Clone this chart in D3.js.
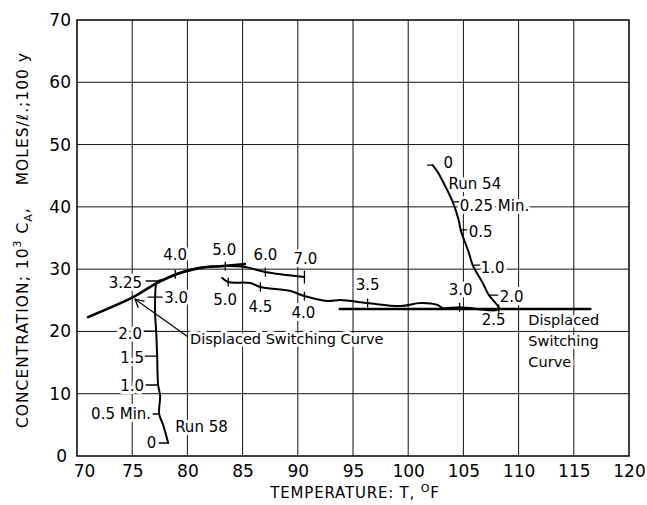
<!DOCTYPE html>
<html><head><meta charset="utf-8">
<script src="https://cdn.jsdelivr.net/npm/d3@7"></script>
<style>
html,body{margin:0;padding:0;background:#fff;}
svg{display:block;}
text{font-family:"DejaVu Sans",sans-serif;fill:#000;}
</style></head><body>
<svg id="chart" width="647" height="505"></svg>
<script>
// Axis ticks
const temperatureTicks = [70, 75, 80, 85, 90, 95, 100, 105, 110, 115, 120];
const concentrationTicks = [0, 10, 20, 30, 40, 50, 60, 70];

// Run 58 trajectory (temperature °F, concentration)
const run58Temperature   = [78.26, 77.8, 77.44, 77.53, 77.35, 77.26, 77.17, 77.08, 77.08, 77.17, 77.35, 78.0, 78.9, 81.16, 83.43, 85.24, 87.06, 90.6];
const run58Concentration = [2.09, 5.0, 6.74, 9.63, 11.4, 16.05, 20.06, 22.6, 25.5, 27.6, 28.1, 28.4, 29.2, 30.2, 30.5, 30.34, 29.53, 28.73];
// Run 58 elapsed-time marks
const run58Times = ["0", "0.5 Min.", "1.0", "1.5", "2.0", "3.0", "3.25", "4.0", "5.0", "6.0", "7.0"];
const run58TimeTemperature   = [78.26, 77.44, 77.35, 77.26, 77.17, 77.08, 77.35, 78.9, 83.43, 87.06, 90.6];
const run58TimeConcentration = [2.09, 6.74, 11.4, 16.05, 20.06, 25.5, 28.1, 29.2, 30.5, 29.53, 28.73];

// Run 54 trajectory
const run54Temperature   = [102.21, 102.67, 103.3, 104.03, 104.57, 104.75, 105.48, 105.84, 106.75, 107.3, 108.2, 104.66, 103.1, 102.67, 101.1, 99.31, 96.32, 93.87, 92.69, 90.6, 89.33, 86.61, 85.7, 83.7, 83.16];
const run54Concentration = [46.7, 45.6, 43.5, 40.8, 37.9, 36.3, 32.7, 30.66, 27.77, 25.84, 23.6, 23.9, 23.76, 24.24, 24.56, 24.08, 24.56, 25.04, 24.88, 25.68, 26.48, 27.13, 27.77, 27.93, 28.57];
// Run 54 elapsed-time marks
const run54Times = ["0", "0.25 Min.", "0.5", "1.0", "2.0", "2.5", "3.0", "3.5", "4.0", "4.5", "5.0"];
const run54TimeTemperature   = [102.21, 104.03, 104.75, 105.84, 107.3, 108.2, 104.66, 96.32, 90.6, 86.61, 83.7];
const run54TimeConcentration = [46.7, 40.8, 36.3, 30.66, 25.84, 23.6, 23.9, 24.56, 25.68, 27.13, 27.93];

// Displaced switching curves
const switchLeftTemperature   = [71.0, 75.08, 77.26, 78.9, 81.16, 83.25, 85.2];
const switchLeftConcentration = [22.3, 25.5, 27.8, 29.1, 30.2, 30.5, 30.8];
const switchRightTemperature   = [93.8, 116.5];
const switchRightConcentration = [23.6, 23.6];

const runLabels = ["Run 58", "Run 54"];
const switchLabel = "Displaced Switching Curve";

// ---------------------------------------------------------------
const svg = d3.select("#chart");
const L = 77, R = 629, T = 20, B = 456;
const x = d3.scaleLinear().domain([70, 120]).range([L, R]);
const y = d3.scaleLinear().domain([0, 70]).range([B, T]);

const zip = (a, b) => a.map((v, i) => [v, b[i]]);

// grid
const grid = svg.append("g").attr("stroke", "#111").attr("stroke-width", 1);
grid.selectAll("line.v").data(temperatureTicks.slice(1, -1)).join("line")
  .attr("x1", d => x(d)).attr("x2", d => x(d)).attr("y1", T).attr("y2", B);
grid.selectAll("line.h").data(concentrationTicks.slice(1, -1)).join("line")
  .attr("x1", L).attr("x2", R).attr("y1", d => y(d)).attr("y2", d => y(d));

// axes
const xAxis = svg.append("g").attr("transform", `translate(0,${B})`)
  .call(d3.axisBottom(x).tickValues(temperatureTicks).tickSize(0).tickPadding(9).tickFormat(d3.format("d")));
const yAxis = svg.append("g").attr("transform", `translate(${L},0)`)
  .call(d3.axisLeft(y).tickValues(concentrationTicks).tickSize(0).tickPadding(6).tickFormat(d3.format("d")));
[xAxis, yAxis].forEach(a => {
  a.select(".domain").remove();
  a.selectAll("text").attr("font-size", 17).attr("font-family", "DejaVu Sans");
});
// first temperature label sits clear of the corner
xAxis.selectAll(".tick text").filter(d => d === temperatureTicks[0]).attr("dx", 7);
yAxis.selectAll(".tick text").filter(d => d === concentrationTicks[0]).attr("dx", -4);

// axis titles
svg.append("text").attr("x", 355).attr("y", 498).attr("text-anchor", "middle")
  .attr("font-size", 15).attr("letter-spacing", 0.8)
  .call(t => {
    t.append("tspan").text("TEMPERATURE: T, ");
    t.append("tspan").attr("font-size", 11).attr("dy", -6).text("O");
    t.append("tspan").attr("dy", 6).text("F");
  });

svg.append("text").attr("transform", "translate(28,240) rotate(-90)").attr("text-anchor", "middle")
  .attr("font-size", 15.5).attr("letter-spacing", 1)
  .call(t => {
    t.append("tspan").text("CONCENTRATION; 10");
    t.append("tspan").attr("font-size", 11).attr("dy", -7).text("3");
    t.append("tspan").attr("dy", 7).text(" C");
    t.append("tspan").attr("font-size", 11).attr("dy", 4).text("A");
    t.append("tspan").attr("dy", -4).text(",");
    t.append("tspan").attr("dx", 22).text("MOLES/ℓ.;100 y");
  });

// label placement for each time mark
const run58Layout = [
  {tick: "left", len: 9, dx: -12, dy: 0, anchor: "end"},
  {tick: "left", len: 6, dx: -8, dy: 0, anchor: "end"},
  {tick: "left", len: 12, dx: -14, dy: 1, anchor: "end"},
  {tick: "left", len: 12, dx: -13, dy: 2, anchor: "end"},
  {tick: "left", len: 12, dx: -14, dy: 3, anchor: "end"},
  {tick: "cross", len: 7, dx: 9, dy: 1, anchor: "start"},
  {tick: "left", len: 12, dx: -16, dy: 2, anchor: "end"},
  {tick: "vert", len: 4, dx: 0, dy: -19, anchor: "middle"},
  {tick: "vert", len: 4, dx: -1, dy: -16, anchor: "middle"},
  {tick: "vert", len: 4, dx: 0, dy: -17, anchor: "middle"},
  {tick: "vert", len: 6, dx: 1, dy: -18, anchor: "middle"}
];
const run54Layout = [
  {tick: "left", len: 5, dx: 11, dy: -2, anchor: "start"},
  {tick: "right", len: 6, dx: 7, dy: 4, anchor: "start"},
  {tick: "right", len: 6, dx: 8, dy: 2, anchor: "start"},
  {tick: "right", len: 7, dx: 8, dy: 3, anchor: "start"},
  {tick: "right", len: 9, dx: 11, dy: 2, anchor: "start"},
  {tick: "vert", len: 4, dx: -5, dy: 11, anchor: "middle"},
  {tick: "vert", len: 4, dx: 1, dy: -17, anchor: "middle"},
  {tick: "vert", len: 4, dx: 0, dy: -18, anchor: "middle"},
  {tick: "vert", len: 4, dx: -1, dy: 17, anchor: "middle"},
  {tick: "vert", len: 4, dx: 0, dy: 20, anchor: "middle"},
  {tick: "vert", len: 4, dx: -3, dy: 18, anchor: "middle"}
];

const labelLayer = svg.append("g").attr("font-size", 15);
const curveLayer = svg.append("g").attr("fill", "none").attr("stroke", "#000").attr("stroke-linejoin", "round").attr("stroke-linecap", "round");
const halo = sel => sel.attr("stroke", "#fff").attr("stroke-width", 6).attr("paint-order", "stroke").attr("stroke-linejoin", "round");

const line = d3.line().x(d => x(d[0])).y(d => y(d[1])).curve(d3.curveCatmullRom.alpha(0.5));

// switching curves
curveLayer.append("path").attr("d", line(zip(switchLeftTemperature, switchLeftConcentration))).attr("stroke-width", 2.6);
curveLayer.append("path").attr("d", d3.line().x(d => x(d[0])).y(d => y(d[1]))(zip(switchRightTemperature, switchRightConcentration))).attr("stroke-width", 2.6);

// run trajectories
curveLayer.append("path").attr("d", line(zip(run58Temperature, run58Concentration))).attr("stroke-width", 2);
curveLayer.append("path").attr("d", line(zip(run54Temperature, run54Concentration))).attr("stroke-width", 2);

function drawMarks(times, temps, concs, layout) {
  times.forEach((t, i) => {
    const px = x(temps[i]), py = y(concs[i]), o = layout[i];
    let seg;
    if (o.tick === "left") seg = [px - o.len, py, px, py];
    else if (o.tick === "right") seg = [px, py, px + o.len, py];
    else if (o.tick === "cross") seg = [px - o.len, py, px + o.len, py];
    else seg = [px, py - o.len, px, py + o.len];
    curveLayer.append("line").attr("x1", seg[0]).attr("y1", seg[1]).attr("x2", seg[2]).attr("y2", seg[3]).attr("stroke-width", 1.3);
    labelLayer.append("text").attr("x", px + o.dx).attr("y", py + o.dy)
      .attr("text-anchor", o.anchor).attr("dominant-baseline", "central").text(t).call(halo);
  });
}
drawMarks(run58Times, run58TimeTemperature, run58TimeConcentration, run58Layout);
drawMarks(run54Times, run54TimeTemperature, run54TimeConcentration, run54Layout);

// run names
labelLayer.append("text").attr("x", x(run58TimeTemperature[1]) + 16).attr("y", y(run58TimeConcentration[1]) + 13)
  .attr("dominant-baseline", "central").text(runLabels[0]).call(halo);
labelLayer.append("text").attr("x", x(run54TimeTemperature[0]) + 16).attr("y", y(run54TimeConcentration[0]) + 19)
  .attr("dominant-baseline", "central").text(runLabels[1]).call(halo);

// left switching-curve label with leader arrow
const tipX = x(switchLeftTemperature[1]) + 2, tipY = y(switchLeftConcentration[1]) + 2;
labelLayer.append("text").attr("x", tipX + 55).attr("y", tipY + 40).attr("font-size", 14.5)
  .attr("dominant-baseline", "central").text(switchLabel).call(halo);
curveLayer.append("line").attr("x1", tipX + 52).attr("y1", tipY + 37).attr("x2", tipX).attr("y2", tipY).attr("stroke-width", 1.2);
curveLayer.append("path").attr("d", `M${tipX + 9},${tipY + 2} L${tipX},${tipY} L${tipX + 3},${tipY + 8}`).attr("stroke-width", 1.3);

// right switching-curve label, three lines
const rx = x(switchRightTemperature[1]) - 62, ry = y(switchRightConcentration[1]);
switchLabel.split(" ").forEach((w, i) => {
  labelLayer.append("text").attr("x", rx).attr("y", ry + 11 + i * 21).attr("font-size", 14.5)
    .attr("dominant-baseline", "central").text(w).call(halo);
});

// frame
svg.append("rect").attr("x", L).attr("y", T).attr("width", R - L).attr("height", B - T)
  .attr("fill", "none").attr("stroke", "#000").attr("stroke-width", 1.5);
</script>
</body></html>
